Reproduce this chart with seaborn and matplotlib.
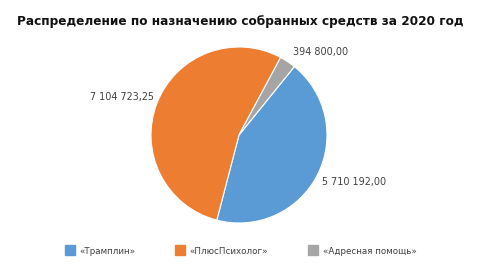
import matplotlib
matplotlib.use("Agg")
import matplotlib.pyplot as plt
from matplotlib.lines import Line2D
import seaborn as sns

categories = ["«Трамплин»", "«ПлюсПсихолог»", "«Адресная помощь»"]
values = [5710192.00, 7104723.25, 394800.00]
colors = ["#5B9BD5", "#ED7D31", "#A5A5A5"]
title = "Распределение по назначению собранных средств за 2020 год"

sns.set_theme(style="white")
plt.rcParams['font.family'] = ['DejaVu Sans']

def fmt(v):
    s = f"{v:,.2f}"
    return s.replace(",", " ").replace(".", ",")

W, H = 480, 269
fig = plt.figure(figsize=(W / 100, H / 100), dpi=100)
fig.patch.set_facecolor("white")

ax = fig.add_axes([151 / W, (H - 223) / H, 176 / W, 176 / H])
wedges, _ = ax.pie(values, colors=sns.color_palette(colors), startangle=51,
                   counterclock=False, radius=1,
                   wedgeprops=dict(edgecolor="white", linewidth=0.8))
ax.set_xlim(-1, 1)
ax.set_ylim(-1, 1)
ax.set_aspect("equal")
ax.axis("off")

fig.text(240 / W, 1 - 22 / H, title, ha="center", va="center",
         fontsize=8.7, fontweight="bold", color="#111111")

label_pos = [(354 / W, 1 - 182 / H), (122 / W, 1 - 97 / H), (321 / W, 1 - 52 / H)]
for (x, y), v in zip(label_pos, values):
    fig.text(x, y, fmt(v), ha="center", va="center", fontsize=6.9, color="#404040")

handles = [Line2D([], [], marker="s", linestyle="", markersize=7.2,
                  markerfacecolor=c, markeredgecolor=c) for c in colors]
leg = fig.legend(handles, categories, loc="center", bbox_to_anchor=(241 / W, 1 - 251 / H),
                 ncol=3, frameon=False, fontsize=6.3, handlelength=1.0,
                 handletextpad=0.6, columnspacing=4.6)
for t in leg.get_texts():
    t.set_color("#404040")

fig.savefig("out.png", dpi=100, facecolor="white")
